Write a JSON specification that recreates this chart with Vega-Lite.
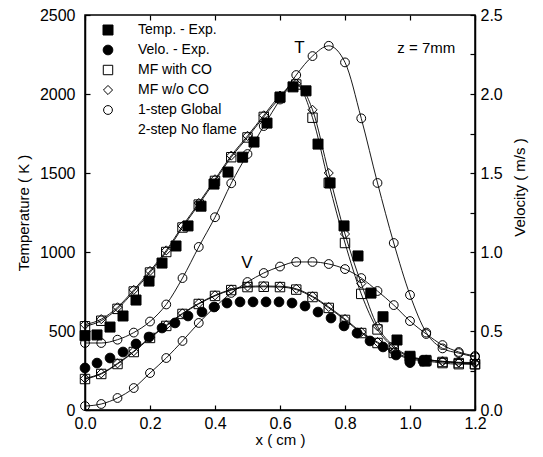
{
  "$schema": "https://vega.github.io/schema/vega-lite/v6.json",
  "width": 390,
  "height": 395,
  "autosize": {"type": "none"},
  "padding": {"left": 85, "top": 15, "right": 68, "bottom": 47},
  "background": "white",
  "config": {
    "font": "Liberation Sans",
    "view": {"stroke": "black", "strokeWidth": 1.5},
    "axis": {
      "labelFont": "Liberation Sans", "titleFont": "Liberation Sans",
      "labelFontSize": 16, "titleFontSize": 15, "titleFontWeight": "normal",
      "labelColor": "black", "titleColor": "black", "labelFlush": false,
      "domainColor": "black", "domainWidth": 1.5,
      "tickColor": "black", "tickWidth": 1.2, "tickSize": -5, "grid": false
    },
    "legend": {
      "labelFont": "Liberation Sans", "labelFontSize": 14, "labelColor": "black",
      "symbolStrokeWidth": 1
    }
  },
  "datasets": {
    "temp": [
      {"s": "Temp. - Exp.", "x": 0, "T": 470}, {"s": "Temp. - Exp.", "x": 0.037, "T": 475}, {"s": "Temp. - Exp.", "x": 0.077, "T": 525},
      {"s": "Temp. - Exp.", "x": 0.117, "T": 595}, {"s": "Temp. - Exp.", "x": 0.157, "T": 696}, {"s": "Temp. - Exp.", "x": 0.197, "T": 816},
      {"s": "Temp. - Exp.", "x": 0.237, "T": 930}, {"s": "Temp. - Exp.", "x": 0.28, "T": 1038}, {"s": "Temp. - Exp.", "x": 0.317, "T": 1165},
      {"s": "Temp. - Exp.", "x": 0.357, "T": 1290}, {"s": "Temp. - Exp.", "x": 0.397, "T": 1430}, {"s": "Temp. - Exp.", "x": 0.44, "T": 1506},
      {"s": "Temp. - Exp.", "x": 0.485, "T": 1600}, {"s": "Temp. - Exp.", "x": 0.52, "T": 1696}, {"s": "Temp. - Exp.", "x": 0.56, "T": 1816},
      {"s": "Temp. - Exp.", "x": 0.6, "T": 1981}, {"s": "Temp. - Exp.", "x": 0.64, "T": 2045}, {"s": "Temp. - Exp.", "x": 0.68, "T": 2020},
      {"s": "Temp. - Exp.", "x": 0.717, "T": 1683}, {"s": "Temp. - Exp.", "x": 0.754, "T": 1437}, {"s": "Temp. - Exp.", "x": 0.797, "T": 1165},
      {"s": "Temp. - Exp.", "x": 0.84, "T": 975}, {"s": "Temp. - Exp.", "x": 0.88, "T": 740}, {"s": "Temp. - Exp.", "x": 0.917, "T": 590},
      {"s": "Temp. - Exp.", "x": 0.96, "T": 443}, {"s": "Temp. - Exp.", "x": 1.0, "T": 340}, {"s": "Temp. - Exp.", "x": 1.046, "T": 310},

      {"s": "MF with CO", "x": 0, "T": 530}, {"s": "MF with CO", "x": 0.05, "T": 565}, {"s": "MF with CO", "x": 0.1, "T": 640},
      {"s": "MF with CO", "x": 0.15, "T": 750}, {"s": "MF with CO", "x": 0.2, "T": 870}, {"s": "MF with CO", "x": 0.25, "T": 1000},
      {"s": "MF with CO", "x": 0.3, "T": 1155}, {"s": "MF with CO", "x": 0.35, "T": 1300}, {"s": "MF with CO", "x": 0.4, "T": 1450},
      {"s": "MF with CO", "x": 0.45, "T": 1600}, {"s": "MF with CO", "x": 0.5, "T": 1725}, {"s": "MF with CO", "x": 0.55, "T": 1855},
      {"s": "MF with CO", "x": 0.6, "T": 1975}, {"s": "MF with CO", "x": 0.65, "T": 2060}, {"s": "MF with CO", "x": 0.7, "T": 1850},
      {"s": "MF with CO", "x": 0.75, "T": 1437}, {"s": "MF with CO", "x": 0.8, "T": 1057}, {"s": "MF with CO", "x": 0.85, "T": 735},
      {"s": "MF with CO", "x": 0.9, "T": 510}, {"s": "MF with CO", "x": 0.95, "T": 395}, {"s": "MF with CO", "x": 1.0, "T": 335},
      {"s": "MF with CO", "x": 1.05, "T": 316}, {"s": "MF with CO", "x": 1.1, "T": 304}, {"s": "MF with CO", "x": 1.15, "T": 297},
      {"s": "MF with CO", "x": 1.2, "T": 290},

      {"s": "MF w/o CO", "x": 0, "T": 540}, {"s": "MF w/o CO", "x": 0.05, "T": 575}, {"s": "MF w/o CO", "x": 0.1, "T": 650},
      {"s": "MF w/o CO", "x": 0.15, "T": 760}, {"s": "MF w/o CO", "x": 0.2, "T": 880}, {"s": "MF w/o CO", "x": 0.25, "T": 1010},
      {"s": "MF w/o CO", "x": 0.3, "T": 1165}, {"s": "MF w/o CO", "x": 0.35, "T": 1310}, {"s": "MF w/o CO", "x": 0.4, "T": 1460},
      {"s": "MF w/o CO", "x": 0.45, "T": 1610}, {"s": "MF w/o CO", "x": 0.5, "T": 1735}, {"s": "MF w/o CO", "x": 0.55, "T": 1865},
      {"s": "MF w/o CO", "x": 0.6, "T": 1990}, {"s": "MF w/o CO", "x": 0.65, "T": 2065}, {"s": "MF w/o CO", "x": 0.7, "T": 1900},
      {"s": "MF w/o CO", "x": 0.75, "T": 1500}, {"s": "MF w/o CO", "x": 0.8, "T": 1114}, {"s": "MF w/o CO", "x": 0.85, "T": 800},
      {"s": "MF w/o CO", "x": 0.9, "T": 530}, {"s": "MF w/o CO", "x": 0.95, "T": 405}, {"s": "MF w/o CO", "x": 1.0, "T": 340},
      {"s": "MF w/o CO", "x": 1.05, "T": 320}, {"s": "MF w/o CO", "x": 1.1, "T": 308}, {"s": "MF w/o CO", "x": 1.15, "T": 300},
      {"s": "MF w/o CO", "x": 1.2, "T": 293},

      {"s": "1-step Global", "x": 0, "T": 424}, {"s": "1-step Global", "x": 0.05, "T": 424}, {"s": "1-step Global", "x": 0.1, "T": 445},
      {"s": "1-step Global", "x": 0.15, "T": 490}, {"s": "1-step Global", "x": 0.2, "T": 560}, {"s": "1-step Global", "x": 0.25, "T": 668},
      {"s": "1-step Global", "x": 0.3, "T": 835}, {"s": "1-step Global", "x": 0.35, "T": 1032}, {"s": "1-step Global", "x": 0.4, "T": 1220},
      {"s": "1-step Global", "x": 0.45, "T": 1435}, {"s": "1-step Global", "x": 0.5, "T": 1620}, {"s": "1-step Global", "x": 0.55, "T": 1797},
      {"s": "1-step Global", "x": 0.6, "T": 1965}, {"s": "1-step Global", "x": 0.65, "T": 2120}, {"s": "1-step Global", "x": 0.7, "T": 2240},
      {"s": "1-step Global", "x": 0.75, "T": 2305}, {"s": "1-step Global", "x": 0.8, "T": 2200}, {"s": "1-step Global", "x": 0.85, "T": 1846},
      {"s": "1-step Global", "x": 0.9, "T": 1437}, {"s": "1-step Global", "x": 0.95, "T": 1057}, {"s": "1-step Global", "x": 1.0, "T": 728},
      {"s": "1-step Global", "x": 1.05, "T": 490}, {"s": "1-step Global", "x": 1.1, "T": 390}, {"s": "1-step Global", "x": 1.15, "T": 360},
      {"s": "1-step Global", "x": 1.2, "T": 335}
    ],
    "velo": [
      {"s": "Velo. - Exp.", "x": 0, "V": 0.266}, {"s": "Velo. - Exp.", "x": 0.037, "V": 0.297}, {"s": "Velo. - Exp.", "x": 0.077, "V": 0.329},
      {"s": "Velo. - Exp.", "x": 0.117, "V": 0.367}, {"s": "Velo. - Exp.", "x": 0.157, "V": 0.418}, {"s": "Velo. - Exp.", "x": 0.197, "V": 0.462},
      {"s": "Velo. - Exp.", "x": 0.237, "V": 0.519}, {"s": "Velo. - Exp.", "x": 0.277, "V": 0.551}, {"s": "Velo. - Exp.", "x": 0.317, "V": 0.595},
      {"s": "Velo. - Exp.", "x": 0.36, "V": 0.62}, {"s": "Velo. - Exp.", "x": 0.397, "V": 0.652}, {"s": "Velo. - Exp.", "x": 0.437, "V": 0.677},
      {"s": "Velo. - Exp.", "x": 0.477, "V": 0.684}, {"s": "Velo. - Exp.", "x": 0.517, "V": 0.684}, {"s": "Velo. - Exp.", "x": 0.557, "V": 0.684},
      {"s": "Velo. - Exp.", "x": 0.597, "V": 0.684}, {"s": "Velo. - Exp.", "x": 0.637, "V": 0.677}, {"s": "Velo. - Exp.", "x": 0.677, "V": 0.658},
      {"s": "Velo. - Exp.", "x": 0.717, "V": 0.62}, {"s": "Velo. - Exp.", "x": 0.757, "V": 0.582}, {"s": "Velo. - Exp.", "x": 0.797, "V": 0.532},
      {"s": "Velo. - Exp.", "x": 0.837, "V": 0.487}, {"s": "Velo. - Exp.", "x": 0.877, "V": 0.437}, {"s": "Velo. - Exp.", "x": 0.917, "V": 0.399},
      {"s": "Velo. - Exp.", "x": 0.957, "V": 0.348}, {"s": "Velo. - Exp.", "x": 1.0, "V": 0.30}, {"s": "Velo. - Exp.", "x": 1.04, "V": 0.31},

      {"s": "MF with CO", "x": 0, "V": 0.196}, {"s": "MF with CO", "x": 0.05, "V": 0.228}, {"s": "MF with CO", "x": 0.1, "V": 0.291},
      {"s": "MF with CO", "x": 0.15, "V": 0.367}, {"s": "MF with CO", "x": 0.2, "V": 0.456}, {"s": "MF with CO", "x": 0.25, "V": 0.532},
      {"s": "MF with CO", "x": 0.3, "V": 0.608}, {"s": "MF with CO", "x": 0.35, "V": 0.671}, {"s": "MF with CO", "x": 0.4, "V": 0.722},
      {"s": "MF with CO", "x": 0.45, "V": 0.759}, {"s": "MF with CO", "x": 0.5, "V": 0.778}, {"s": "MF with CO", "x": 0.55, "V": 0.78},
      {"s": "MF with CO", "x": 0.6, "V": 0.778}, {"s": "MF with CO", "x": 0.65, "V": 0.762}, {"s": "MF with CO", "x": 0.7, "V": 0.715},
      {"s": "MF with CO", "x": 0.75, "V": 0.646}, {"s": "MF with CO", "x": 0.8, "V": 0.57}, {"s": "MF with CO", "x": 0.85, "V": 0.487},
      {"s": "MF with CO", "x": 0.9, "V": 0.424}, {"s": "MF with CO", "x": 0.95, "V": 0.361}, {"s": "MF with CO", "x": 1.0, "V": 0.323},
      {"s": "MF with CO", "x": 1.05, "V": 0.31}, {"s": "MF with CO", "x": 1.1, "V": 0.297}, {"s": "MF with CO", "x": 1.15, "V": 0.29},
      {"s": "MF with CO", "x": 1.2, "V": 0.29},

      {"s": "MF w/o CO", "x": 0, "V": 0.2}, {"s": "MF w/o CO", "x": 0.05, "V": 0.232}, {"s": "MF w/o CO", "x": 0.1, "V": 0.295},
      {"s": "MF w/o CO", "x": 0.15, "V": 0.372}, {"s": "MF w/o CO", "x": 0.2, "V": 0.46}, {"s": "MF w/o CO", "x": 0.25, "V": 0.537},
      {"s": "MF w/o CO", "x": 0.3, "V": 0.612}, {"s": "MF w/o CO", "x": 0.35, "V": 0.675}, {"s": "MF w/o CO", "x": 0.4, "V": 0.726},
      {"s": "MF w/o CO", "x": 0.45, "V": 0.763}, {"s": "MF w/o CO", "x": 0.5, "V": 0.782}, {"s": "MF w/o CO", "x": 0.55, "V": 0.785},
      {"s": "MF w/o CO", "x": 0.6, "V": 0.783}, {"s": "MF w/o CO", "x": 0.65, "V": 0.767}, {"s": "MF w/o CO", "x": 0.7, "V": 0.72},
      {"s": "MF w/o CO", "x": 0.75, "V": 0.652}, {"s": "MF w/o CO", "x": 0.8, "V": 0.576}, {"s": "MF w/o CO", "x": 0.85, "V": 0.493},
      {"s": "MF w/o CO", "x": 0.9, "V": 0.43}, {"s": "MF w/o CO", "x": 0.95, "V": 0.368}, {"s": "MF w/o CO", "x": 1.0, "V": 0.33},
      {"s": "MF w/o CO", "x": 1.05, "V": 0.318}, {"s": "MF w/o CO", "x": 1.1, "V": 0.308}, {"s": "MF w/o CO", "x": 1.15, "V": 0.302},
      {"s": "MF w/o CO", "x": 1.2, "V": 0.3},

      {"s": "1-step Global", "x": 0, "V": 0.025}, {"s": "1-step Global", "x": 0.05, "V": 0.038}, {"s": "1-step Global", "x": 0.1, "V": 0.076},
      {"s": "1-step Global", "x": 0.15, "V": 0.139}, {"s": "1-step Global", "x": 0.2, "V": 0.234}, {"s": "1-step Global", "x": 0.25, "V": 0.329},
      {"s": "1-step Global", "x": 0.3, "V": 0.437}, {"s": "1-step Global", "x": 0.35, "V": 0.551}, {"s": "1-step Global", "x": 0.4, "V": 0.652},
      {"s": "1-step Global", "x": 0.45, "V": 0.741}, {"s": "1-step Global", "x": 0.5, "V": 0.81}, {"s": "1-step Global", "x": 0.55, "V": 0.867},
      {"s": "1-step Global", "x": 0.6, "V": 0.908}, {"s": "1-step Global", "x": 0.65, "V": 0.937}, {"s": "1-step Global", "x": 0.7, "V": 0.937},
      {"s": "1-step Global", "x": 0.75, "V": 0.924}, {"s": "1-step Global", "x": 0.8, "V": 0.892}, {"s": "1-step Global", "x": 0.85, "V": 0.835},
      {"s": "1-step Global", "x": 0.9, "V": 0.753}, {"s": "1-step Global", "x": 0.95, "V": 0.664}, {"s": "1-step Global", "x": 1.0, "V": 0.563},
      {"s": "1-step Global", "x": 1.05, "V": 0.481}, {"s": "1-step Global", "x": 1.1, "V": 0.411}, {"s": "1-step Global", "x": 1.15, "V": 0.367},
      {"s": "1-step Global", "x": 1.2, "V": 0.342}
    ],
    "notes": [
      {"x": 0.66, "T": 2290, "label": "T", "size": 17},
      {"x": 0.498, "T": 930, "label": "V", "size": 17},
      {"x": 1.05, "T": 2290, "label": "z = 7mm", "size": 15}
    ]
  },
  "layer": [
    {
      "data": {"name": "temp"},
      "encoding": {
        "x": {"field": "x", "type": "quantitative", "scale": {"domain": [0, 1.2], "nice": false, "padding": 0},
              "axis": {"title": "x ( cm )", "values": [0, 0.2, 0.4, 0.6, 0.8, 1.0, 1.2], "format": ".1f", "labelPadding": 10, "titlePadding": 1}},
        "y": {"field": "T", "type": "quantitative", "scale": {"domain": [0, 2500], "nice": false, "padding": 0},
              "axis": {"title": "Temperature ( K )", "values": [0, 500, 1000, 1500, 2000, 2500], "format": "d", "labelPadding": 15, "titlePadding": 8}}
      },
      "layer": [
        {
          "transform": [{"filter": "datum.s !== 'Temp. - Exp.'"}],
          "mark": {"type": "line", "color": "black", "strokeWidth": 0.9, "interpolate": "monotone"},
          "encoding": {"detail": {"field": "s"}}
        },
        {
          "mark": {"type": "point", "strokeWidth": 1, "opacity": 1},
          "encoding": {
            "shape": {"field": "s", "type": "nominal",
              "scale": {"domain": ["Temp. - Exp.", "Velo. - Exp.", "MF with CO", "MF w/o CO", "1-step Global", "2-step No flame"],
                        "range": ["square", "circle", "square", "diamond", "circle", "M0,0"]},
              "legend": {"orient": "none", "legendX": 16, "legendY": 8, "title": null, "rowPadding": 6, "labelOffset": 23}},
            "fill": {"field": "s", "type": "nominal",
              "scale": {"domain": ["Temp. - Exp.", "Velo. - Exp.", "MF with CO", "MF w/o CO", "1-step Global", "2-step No flame"],
                        "range": ["black", "black", "transparent", "transparent", "transparent", "transparent"]},
              "legend": {"orient": "none", "legendX": 16, "legendY": 8, "title": null, "rowPadding": 6, "labelOffset": 23}},
            "stroke": {"field": "s", "type": "nominal",
              "scale": {"domain": ["Temp. - Exp.", "Velo. - Exp.", "MF with CO", "MF w/o CO", "1-step Global", "2-step No flame"],
                        "range": ["black", "black", "black", "black", "black", "black"]},
              "legend": {"orient": "none", "legendX": 16, "legendY": 8, "title": null, "rowPadding": 6, "labelOffset": 23}},
            "size": {"field": "s", "type": "nominal",
              "scale": {"domain": ["Temp. - Exp.", "Velo. - Exp.", "MF with CO", "MF w/o CO", "1-step Global", "2-step No flame"],
                        "range": [100, 72, 45, 35, 45, 10]},
              "legend": {"orient": "none", "legendX": 16, "legendY": 8, "title": null, "rowPadding": 6, "labelOffset": 23}}
          }
        },
        {
          "data": {"name": "notes"},
          "mark": {"type": "text", "font": "Liberation Sans", "color": "black", "align": "center", "baseline": "middle"},
          "encoding": {
            "text": {"field": "label"},
            "size": {"field": "size", "type": "quantitative", "scale": null}
          }
        }
      ]
    },
    {
      "data": {"name": "velo"},
      "encoding": {
        "x": {"field": "x", "type": "quantitative", "scale": {"domain": [0, 1.2], "nice": false, "padding": 0},
              "axis": {"orient": "top", "title": null, "labels": false, "values": [0, 0.2, 0.4, 0.6, 0.8, 1.0, 1.2], "domain": false}},
        "y": {"field": "V", "type": "quantitative", "scale": {"domain": [0, 2.5], "nice": false, "padding": 0},
              "axis": {"orient": "right", "title": "Velocity ( m/s )", "titleAngle": 270, "titleY": 172,
                       "values": [0, 0.25, 0.5, 0.75, 1.0, 1.25, 1.5, 1.75, 2.0, 2.25, 2.5],
                       "labelExpr": "datum.value % 0.5 === 0 ? format(datum.value, '.1f') : ''",
                       "labelPadding": 10, "titlePadding": 25}}
      },
      "layer": [
        {
          "transform": [{"filter": "datum.s !== 'Velo. - Exp.'"}],
          "mark": {"type": "line", "color": "black", "strokeWidth": 0.9, "interpolate": "monotone"},
          "encoding": {"detail": {"field": "s"}}
        },
        {
          "mark": {"type": "point", "strokeWidth": 1, "opacity": 1},
          "encoding": {
            "shape": {"field": "s", "type": "nominal"},
            "fill": {"field": "s", "type": "nominal"},
            "stroke": {"field": "s", "type": "nominal"},
            "size": {"field": "s", "type": "nominal"}
          }
        }
      ]
    }
  ],
  "resolve": {"scale": {"y": "independent"}, "axis": {"x": "independent"}}
}
